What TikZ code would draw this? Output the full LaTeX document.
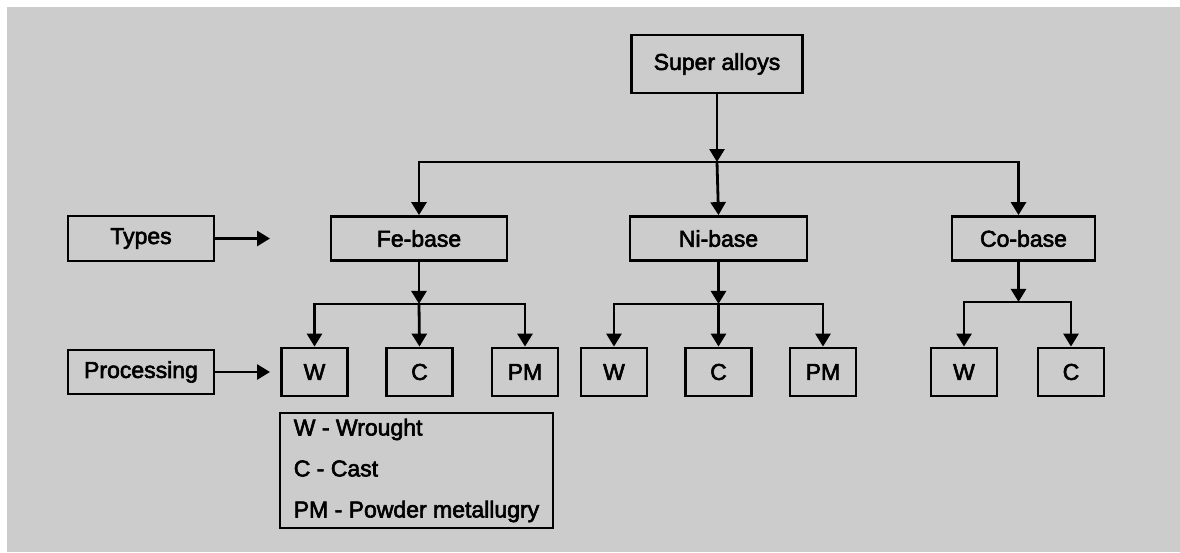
\documentclass[tikz,border=0pt]{standalone}
\usepackage{fontspec}
\setmainfont[FakeBold=2.6]{Liberation Sans}
\usepackage{xcolor}
\usetikzlibrary{arrows.meta, positioning}
\definecolor{panelgray}{RGB}{204,204,204}

\tikzset{
  box/.style={draw, line width=2.8pt, fill=panelgray, inner sep=0pt, font=\fontsize{23}{26}\selectfont},
  leafbox/.style={box, minimum width=66pt, minimum height=48pt},
  link/.style={line width=2.8pt, -{Triangle[length=13pt, width=15pt]}},
}

\begin{document}
\begin{tikzpicture}[x=1pt, y=-1pt]
\useasboundingbox (0,0) rectangle (1180,552);
\fill[white] (0,0) rectangle (1180,552);
\fill[panelgray] (7,7) rectangle (1180,552);

% top
\node[box, minimum width=171pt, minimum height=58pt] (super) at (717,64) {Super alloys};

% types row
\node[box, minimum width=146pt, minimum height=45pt] (types) at (141,238.5) {Types};
\node[box, minimum width=176pt, minimum height=44pt] (fe) at (419,238.5) {Fe-base};
\node[box, minimum width=177pt, minimum height=44pt] (ni) at (718.5,238.5) {Ni-base};
\node[box, minimum width=143pt, minimum height=44pt] (co) at (1023.5,238.5) {Co-base};

% processing row
\node[box, minimum width=146pt, minimum height=44pt] (proc) at (141,372) {Processing};
\node[leafbox] (fe-w) at (314.5,372) {W};
\node[leafbox] (fe-c) at (419.5,372) {C};
\node[leafbox] (fe-pm) at (525,372) {PM};
\node[leafbox] (ni-w) at (614,372) {W};
\node[leafbox] (ni-c) at (718.5,372) {C};
\node[leafbox] (ni-pm) at (823,372) {PM};
\node[leafbox] (co-w) at (964,372) {W};
\node[leafbox] (co-c) at (1071,372) {C};

% legend
\node[box, minimum width=273pt, minimum height=115pt, align=left,
      font=\fontsize{23}{41}\selectfont] (legend) at (416.5,470.5)
  {W - Wrought\\C - Cast\\PM - Powder metallugry};

% super alloys -> types
\coordinate (bus) at (717,162);
\draw[link] (super.south) -- (bus);
\draw[link] (bus) -| (fe.north);
\draw[link] (bus) -- (ni.north);
\draw[link] (bus) -| ([xshift=-5pt]co.north);

% fe-base
\draw[link] (fe.south) -- ++(0,42) coordinate (fe-bus);
\draw[link] (fe-bus) -| (fe-w.north);
\draw[link] (fe-bus) -- (fe-c.north);
\draw[link] (fe-bus) -| (fe-pm.north);

% ni-base
\draw[link] (ni.south) -- ++(0,42) coordinate (ni-bus);
\draw[link] (ni-bus) -| (ni-w.north);
\draw[link] (ni-bus) -- (ni-c.north);
\draw[link] (ni-bus) -| (ni-pm.north);

% co-base
\draw[link] ([xshift=-5pt]co.south) -- ++(0,40) coordinate (co-bus);
\draw[link] (co-bus) -| (co-w.north);
\draw[link] (co-bus) -| (co-c.north);

% row labels
\coordinate (types-end) at (270,238.5);
\coordinate (proc-end) at (270,372);
\draw[link] (types) -- (types-end);
\draw[link] (proc) -- (proc-end);
\end{tikzpicture}
\end{document}
